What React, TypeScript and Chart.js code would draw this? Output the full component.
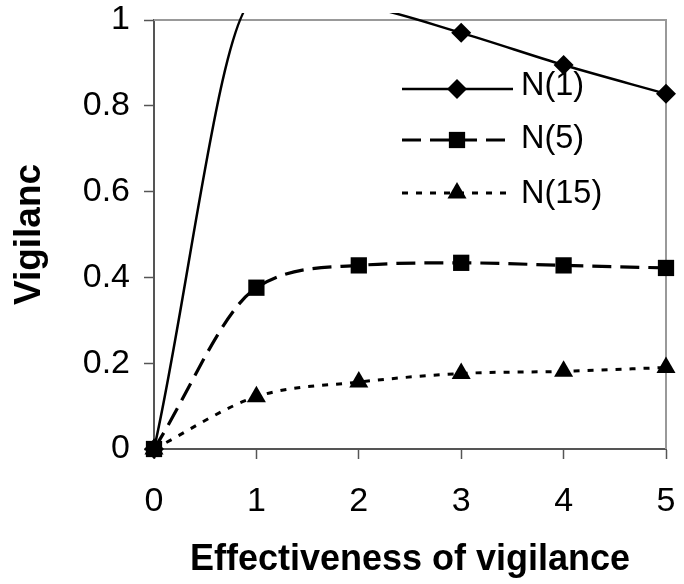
import React, { useEffect, useRef } from "react";
import { Chart, registerables } from "chart.js";

Chart.register(...registerables);

// ---- data ----
const xValues = [0, 1, 2, 3, 4, 5];
const n1Values = [0, 1.05, 1.035, 0.97, 0.895, 0.828];
const n5Values = [0, 0.376, 0.428, 0.434, 0.428, 0.422];
const n15Values = [0, 0.122, 0.156, 0.176, 0.181, 0.19];
const seriesLabels = ["N(1)", "N(5)", "N(15)"];
const xTickLabels = ["0", "1", "2", "3", "4", "5"];
const yTickLabels = ["0", "0.2", "0.4", "0.6", "0.8", "1"];
const xTitle = "Effectiveness of vigilance";
const yTitle = "Vigilanc";

const FONT = '"Liberation Sans", Arial, sans-serif';

function toPoints(values: number[]) {
  return xValues.map((x, i) => ({ x, y: values[i] }));
}

function drawMarker(ctx: CanvasRenderingContext2D, style: string, x: number, y: number, r: number) {
  ctx.beginPath();
  if (style === "rectRot") {
    ctx.moveTo(x, y - r);
    ctx.lineTo(x + r, y);
    ctx.lineTo(x, y + r);
    ctx.lineTo(x - r, y);
  } else if (style === "rect") {
    const s = r * Math.SQRT1_2;
    ctx.rect(x - s, y - s, 2 * s, 2 * s);
  } else {
    ctx.moveTo(x, y - r);
    ctx.lineTo(x + r * 0.866, y + r * 0.5);
    ctx.lineTo(x - r * 0.866, y + r * 0.5);
  }
  ctx.closePath();
  ctx.fill();
}

const framePlugin = {
  id: "frame",
  beforeDatasetsDraw(chart: any) {
    const { ctx, chartArea } = chart;
    ctx.save();
    ctx.strokeStyle = "#999999";
    ctx.lineWidth = 2;
    ctx.beginPath();
    ctx.moveTo(chartArea.left, chartArea.top);
    ctx.lineTo(chartArea.right, chartArea.top);
    ctx.lineTo(chartArea.right, chartArea.bottom);
    ctx.stroke();
    ctx.restore();
  },
};

const legendPlugin = {
  id: "insideLegend",
  afterDatasetsDraw(chart: any) {
    const { ctx, chartArea } = chart;
    const lineOffsets = [69, 120, 173];
    const textOffsets = [66, 119, 174];
    const x0 = chartArea.left + 248;
    const x1 = chartArea.left + 359;
    const xm = chartArea.left + 303;
    const xt = chartArea.left + 367;
    chart.data.datasets.forEach((ds: any, i: number) => {
      const y = chartArea.top + lineOffsets[i];
      ctx.save();
      ctx.strokeStyle = ds.borderColor;
      ctx.lineWidth = ds.borderWidth;
      ctx.setLineDash(ds.borderDash || []);
      ctx.beginPath();
      ctx.moveTo(x0, y);
      ctx.lineTo(x1, y);
      ctx.stroke();
      ctx.setLineDash([]);
      ctx.fillStyle = "#000";
      drawMarker(ctx, ds.pointStyle, xm, y, ds.legendRadius);
      ctx.font = `32.5px ${FONT}`;
      ctx.textBaseline = "middle";
      ctx.textAlign = "left";
      ctx.fillText(ds.label, xt, chartArea.top + textOffsets[i]);
      ctx.restore();
    });
  },
};

const zeroPad = (s: any) => {
  s.paddingLeft = 0;
  s.paddingRight = 0;
  s.paddingTop = 0;
  s.paddingBottom = 0;
};

export default function App() {
  const ref = useRef<HTMLCanvasElement>(null);
  useEffect(() => {
    const hideAbove = (r: number) => (c: any) => (c.raw && c.raw.y > 1 ? 0 : r);
    const common = {
      borderColor: "#000",
      backgroundColor: "#000",
      pointBackgroundColor: "#000",
      pointBorderWidth: 0,
      fill: false,
      tension: 0.4,
      cubicInterpolationMode: "monotone",
      clip: { left: 20, right: 20, top: 7, bottom: 20 },
    };
    const chart = new Chart(ref.current as HTMLCanvasElement, {
      type: "line",
      data: {
        datasets: [
          {
            ...common,
            label: seriesLabels[0],
            data: toPoints(n1Values),
            borderWidth: 2.5,
            pointStyle: "rectRot",
            pointRadius: hideAbove(10),
            legendRadius: 10,
          } as any,
          {
            ...common,
            label: seriesLabels[1],
            data: toPoints(n5Values),
            borderWidth: 3.2,
            borderDash: [19, 9],
            pointStyle: "rect",
            pointRadius: hideAbove(11.5),
            legendRadius: 11.5,
          } as any,
          {
            ...common,
            label: seriesLabels[2],
            data: toPoints(n15Values),
            borderWidth: 3,
            borderDash: [6, 8],
            pointStyle: "triangle",
            pointRadius: hideAbove(11),
            legendRadius: 11,
          } as any,
        ],
      },
      options: {
        responsive: false,
        animation: false,
        events: [],
        layout: { padding: { top: 20, right: 18, left: 0, bottom: 0 } },
        elements: { line: { capBezierPoints: false } as any },
        plugins: {
          legend: { display: false },
          tooltip: { enabled: false },
        },
        scales: {
          x: {
            type: "linear",
            min: 0,
            max: 5,
            afterFit: (s: any) => {
              s.height = 135;
              zeroPad(s);
            },
            border: { display: true, color: "#555", width: 2 },
            grid: {
              drawOnChartArea: false,
              drawTicks: true,
              tickLength: 10,
              tickColor: "#555",
              tickWidth: 1.5,
            },
            ticks: {
              stepSize: 1,
              padding: 22,
              color: "#000",
              font: { family: FONT, size: 34 },
              maxRotation: 0,
              callback: (_v: any, i: number) => xTickLabels[i],
            },
            title: {
              display: true,
              text: xTitle,
              color: "#000",
              font: { family: FONT, size: 36, weight: "bold", lineHeight: 1.2 },
              padding: { top: 0, bottom: 2 },
            },
          },
          y: {
            type: "linear",
            min: 0,
            max: 1,
            afterFit: (s: any) => {
              s.width = 154;
              zeroPad(s);
            },
            border: { display: true, color: "#555", width: 2 },
            grid: {
              drawOnChartArea: false,
              drawTicks: true,
              tickLength: 10,
              tickColor: "#555",
              tickWidth: 1.5,
            },
            ticks: {
              stepSize: 0.2,
              padding: 14,
              color: "#000",
              font: { family: FONT, size: 34 },
              callback: (_v: any, i: number) => yTickLabels[i],
            },
            title: {
              display: true,
              text: yTitle,
              color: "#000",
              font: { family: FONT, size: 37, weight: "bold", lineHeight: 1.2 },
              padding: { top: 8, bottom: 0 },
            },
          },
        },
      },
      plugins: [framePlugin, legendPlugin],
    } as any);
    return () => chart.destroy();
  }, []);
  return (
    <div style={{ position: "absolute", left: 0, top: 0, width: 684, height: 584, background: "#fff" }}>
      <canvas ref={ref} width={684} height={584} style={{ display: "block" }} />
    </div>
  );
}
